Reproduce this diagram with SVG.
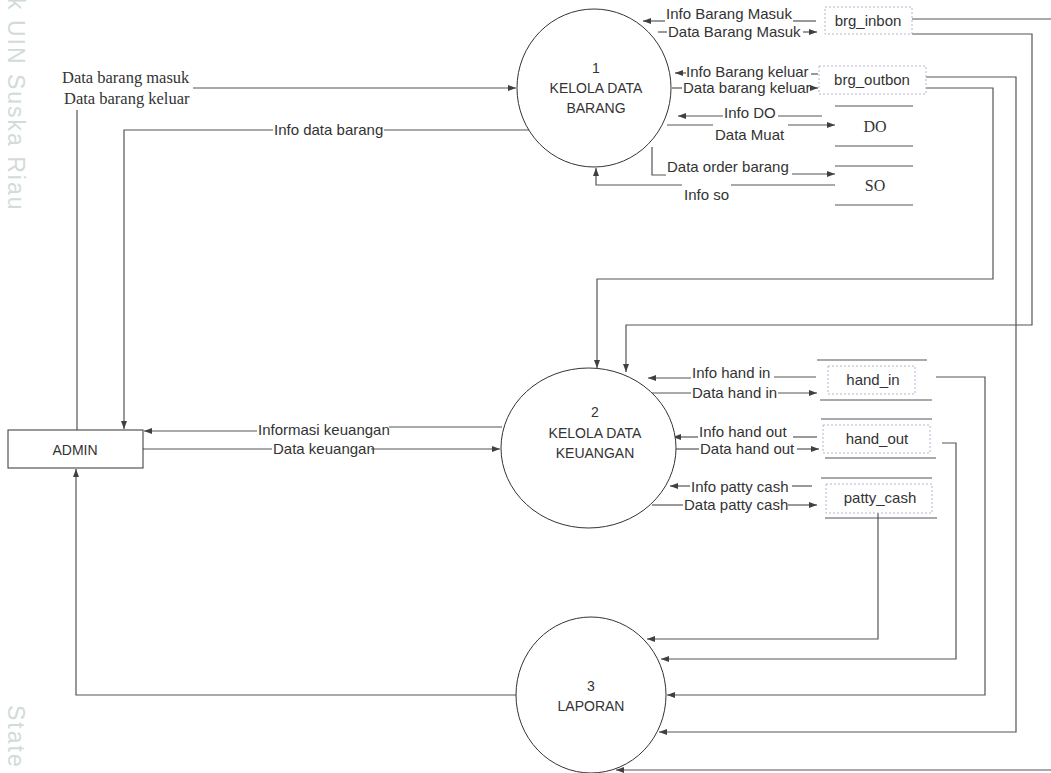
<svg xmlns="http://www.w3.org/2000/svg" width="1051" height="773" viewBox="0 0 1051 773">
<defs>
<marker id="ah" markerUnits="userSpaceOnUse" markerWidth="9" markerHeight="7" refX="8" refY="3" orient="auto">
<path d="M0,0 L8,3 L0,6 z" fill="#404040"/>
</marker>
<style>
.c{fill:none;stroke:#555;stroke-width:1.2}
.a{marker-end:url(#ah)}
.t{font-family:"Liberation Sans",Arial,sans-serif;font-size:15px;fill:#333}
.ct{font-family:"Liberation Sans",Arial,sans-serif;font-size:14px;fill:#333;text-anchor:middle}
.s{font-family:"Liberation Serif","Times New Roman",serif;font-size:16.5px;fill:#333}
.m{text-anchor:middle}
.p{fill:#fff;stroke:#333;stroke-width:1}
.st{stroke:#555;stroke-width:1.2}
.db{fill:none;stroke:#b4b4d2;stroke-width:1;stroke-dasharray:2,2}
.w{font-family:"Liberation Sans",Arial,sans-serif;font-size:23px;letter-spacing:2px;fill:#d2dbd8}
</style>
</defs>
<rect width="1051" height="773" fill="#fff"/>
<text class="w" transform="translate(8,-2) rotate(90)">k UIN Suska Riau</text>
<text class="w" transform="translate(8,705) rotate(90)">State</text>

<g id="connectors">
<path class="c" d="M816,21 H793"/>
<path class="c a" d="M665,21 H643"/>
<path class="c" d="M658,32 H667"/>
<path class="c a" d="M803,32 H817"/>
<path class="c" d="M818,74 H811"/>
<path class="c a" d="M686,73 H675"/>
<path class="c" d="M672,88 H682"/>
<path class="c a" d="M810,88 H818"/>
<path class="c" d="M822,116 H778"/>
<path class="c a" d="M723,116 H678"/>
<path class="c" d="M667,125 H713"/>
<path class="c a" d="M788,125 H835"/>
<path class="c" d="M652,147 V175 H666"/>
<path class="c a" d="M792,174 H835"/>
<path class="c" d="M835,185 H731"/>
<path class="c a" d="M682,185 H596 V168"/>
<path class="c" d="M530,130 H384"/>
<path class="c a" d="M273,130 H124 V429"/>
<path class="c" d="M77,430 V110"/>
<path class="c a" d="M193,88 H516"/>
<path class="c" d="M502,427 H389"/>
<path class="c a" d="M257,431 H144"/>
<path class="c" d="M143,449 H272"/>
<path class="c a" d="M371,449 H500"/>
<path class="c" d="M816,377 H774"/>
<path class="c a" d="M691,378 H648"/>
<path class="c" d="M652,393 H691"/>
<path class="c a" d="M778,393 H817"/>
<path class="c" d="M817,437 H793"/>
<path class="c a" d="M698,437 H673"/>
<path class="c" d="M675,449 H699"/>
<path class="c a" d="M797,449 H819"/>
<path class="c" d="M812,486 H792"/>
<path class="c a" d="M690,486 H670"/>
<path class="c" d="M652,505 H683"/>
<path class="c a" d="M788,505 H817"/>
<path class="c a" d="M912,19 H1056 V770 H616"/>
<path class="c a" d="M912,34 H1032 V325 H626 V372"/>
<path class="c a" d="M926,77 H1016 V732 H659"/>
<path class="c a" d="M926,88 H993 V279 H597 V368"/>
<path class="c a" d="M936,377 H985 V695 H667"/>
<path class="c a" d="M942,443 H956 V659 H661"/>
<path class="c a" d="M878,513 V639 H647"/>
<path class="c a" d="M516,695 H76 V469"/>
<text class="t" x="666" y="19">Info Barang Masuk</text>
<text class="t" x="668" y="37">Data Barang Masuk</text>
<text class="t" x="686" y="77">Info Barang keluar</text>
<text class="t" x="683" y="93">Data barang keluar</text>
<text class="t" x="724" y="118">Info DO</text>
<text class="t" x="715" y="140">Data Muat</text>
<text class="t" x="667" y="172">Data order barang</text>
<text class="t" x="684" y="200">Info so</text>
<text class="t" x="274" y="135">Info data barang</text>
<text class="s" x="62" y="83">Data barang masuk</text>
<text class="s" x="64" y="104">Data barang keluar</text>
<text class="t" x="258" y="435">Informasi keuangan</text>
<text class="t" x="273" y="454">Data keuangan</text>
<text class="t" x="692" y="378">Info hand in</text>
<text class="t" x="692" y="398">Data hand in</text>
<text class="t" x="699" y="437">Info hand out</text>
<text class="t" x="700" y="454">Data hand out</text>
<text class="t" x="691" y="492">Info patty cash</text>
<text class="t" x="684" y="510">Data patty cash</text>
</g>

<g id="p1">
<ellipse class="p" cx="594" cy="88" rx="77" ry="79"/>
<text class="ct" x="596" y="73">1</text>
<text class="ct" x="596" y="93">KELOLA DATA</text>
<text class="ct" x="596" y="113">BARANG</text>
</g>
<g id="p2">
<ellipse class="p" cx="588.5" cy="448" rx="87.5" ry="80"/>
<text class="ct" x="595" y="417">2</text>
<text class="ct" x="595" y="438">KELOLA DATA</text>
<text class="ct" x="595" y="458">KEUANGAN</text>
</g>
<g id="p3">
<ellipse class="p" cx="591" cy="695" rx="75" ry="78"/>
<text class="ct" x="591" y="691">3</text>
<text class="ct" x="591" y="711">LAPORAN</text>
</g>
<g id="admin">
<rect x="8" y="430" width="135" height="38" fill="#fff" stroke="#333" stroke-width="1"/>
<text class="t m" x="75" y="455" style="font-size:14px">ADMIN</text>
</g>
<g id="brg_inbon">
<rect class="db" x="825" y="7" width="87" height="27"/>
<text class="t m" x="868" y="26">brg_inbon</text>
</g>
<g id="brg_outbon">
<rect class="db" x="819" y="66" width="107" height="28"/>
<text class="t m" x="872" y="85">brg_outbon</text>
</g>
<g id="do">
<line class="st" x1="835" y1="106" x2="913" y2="106"/>
<line class="st" x1="835" y1="146" x2="913" y2="146"/>
<text class="s m" x="875" y="132" style="font-size:16px">DO</text>
</g>
<g id="so">
<line class="st" x1="835" y1="166" x2="913" y2="166"/>
<line class="st" x1="835" y1="205" x2="913" y2="205"/>
<text class="s m" x="875" y="191" style="font-size:16px">SO</text>
</g>
<g id="hand_in">
<line class="st" x1="817" y1="360" x2="927" y2="360"/>
<line class="st" x1="820" y1="400" x2="932" y2="400"/>
<rect class="db" x="828" y="366" width="87" height="28"/>
<text class="t m" x="873" y="385">hand_in</text>
</g>
<g id="hand_out">
<line class="st" x1="821" y1="419" x2="932" y2="419"/>
<line class="st" x1="825" y1="458" x2="936" y2="458"/>
<rect class="db" x="823" y="425" width="107" height="28"/>
<text class="t m" x="877" y="444">hand_out</text>
</g>
<g id="patty_cash">
<line class="st" x1="821" y1="478" x2="932" y2="478"/>
<line class="st" x1="825" y1="518" x2="937" y2="518"/>
<rect class="db" x="826" y="484" width="106" height="29"/>
<text class="t m" x="880" y="503">patty_cash</text>
</g>
</svg>
